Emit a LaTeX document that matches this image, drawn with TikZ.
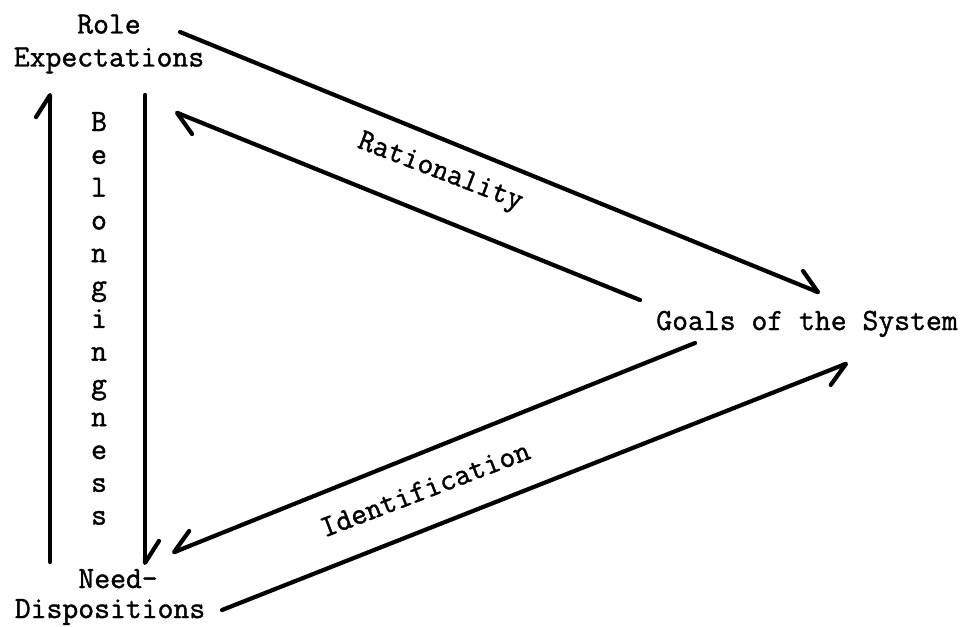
\documentclass[tikz,border=0pt]{standalone}
\usepackage{fontspec}
\newfontfamily\twfont{Latin Modern Mono}[FakeBold=1.3]
\usetikzlibrary{arrows.meta}
\begin{document}
\begin{tikzpicture}[x=0.5pt,y=-0.5pt,
  lbl/.style={font=\twfont\fontsize{15.4pt}{16.5pt}\selectfont, inner sep=0pt, align=center},
  conn/.style={line width=2.1pt, line cap=round, line join=round,
    -{Straight Barb[harpoon,round,length=11pt,width=14pt]}},
  connS/.style={line width=2.1pt, line cap=round, line join=round,
    -{Straight Barb[harpoon,swap,round,length=11pt,width=14pt]}}
]
\useasboundingbox (0,0) rectangle (961,626);

% text nodes
\node[lbl] (role) at (109,44) {Role\\Expectations};
\node[lbl, font=\twfont\fontsize{15.4pt}{15pt}\selectfont] (need) at (110,597) {\hspace*{0.525em}Need-\\Dispositions};
\node[lbl, anchor=base] (goals) at (807,330) {Goals of the System};
\foreach \l [count=\i] in {B,e,l,o,n,g,i,n,g,n,e,s,s}
  \node[lbl, anchor=base] (b\i) at (99,{131+(\i-1)*32.8}) {\l};
\node[lbl, rotate=-21] (rat) at (440,173) {Rationality};
\node[lbl, rotate=21] (ident) at (425,489) {Identification};

% connector end points
\coordinate (lu0) at (50,562);  \coordinate (lu1) at (50,93);
\coordinate (rd0) at (145,95);  \coordinate (rd1) at (145,565);
\coordinate (t0) at (180,32);   \coordinate (t1) at (820,293);
\coordinate (u0) at (640,300);  \coordinate (u1) at (175,112);
\coordinate (v0) at (695,343);  \coordinate (v1) at (172,553);
\coordinate (w0) at (222,610);  \coordinate (w1) at (848,363);

% connectors
\draw[conn] (lu0) -- (lu1);
\draw[conn] (rd0) -- (rd1);
\draw[conn] (t0) -- (t1);
\draw[conn] (u0) -- (u1);
\draw[connS] (v0) -- (v1);
\draw[connS] (w0) -- (w1);
\end{tikzpicture}
\end{document}
